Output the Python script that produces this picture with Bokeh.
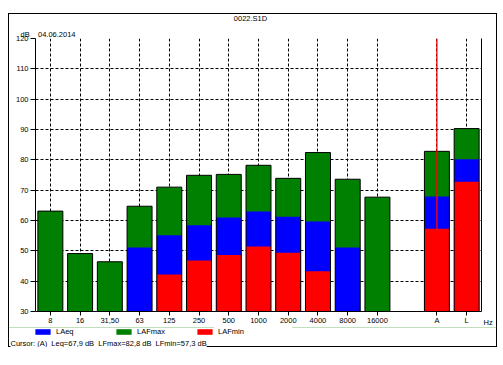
from bokeh.plotting import figure
from bokeh.layouts import column
from bokeh.models import (ColumnDataSource, FixedTicker, LinearAxis, Span, Title, Label,
                          Legend, LegendItem, Range1d)
from bokeh.embed import file_html
from bokeh.resources import INLINE

NaN = float("nan")
NB = "\u00a0"

# ---- data ----
bands = ["8", "16", "31,50", "63", "125", "250", "500", "1000", "2000", "4000",
         "8000", "16000", "A", "L"]
lafmax = [63.1, 49.1, 46.4, 64.7, 71.0, 74.9, 75.2, 78.2, 73.9, 82.4, 73.6, 67.7, 82.8, 90.3]
laeq = [NaN, NaN, NaN, 51.1, 55.1, 58.4, 61.0, 63.0, 61.2, 59.7, 51.1, NaN, 67.9, 80.2]
lafmin = [NaN, NaN, NaN, NaN, 42.2, 46.8, 48.6, 51.4, 49.4, 43.3, NaN, NaN, 57.3, 72.8]
series_cols = ["laeq", "lafmax", "lafmin"]
series_names = ["LAeq", "LAFmax", "LAFmin"]
series_colors = ["#0000ff", "#008000", "#ff0000"]
y_ticks = list(range(30, 121, 10))
title_text = "0022.S1D"
unit_text = "dB"
date_text = "04.06.2014"
x_unit_text = "Hz"
cursor_band = "A"
cursor_text = ("Cursor: (A)" + NB * 2 + "Leq=67,9 dB" + NB * 2 +
               "LFmax=82,8 dB" + NB * 2 + "LFmin=57,3 dB")

FONT = "Liberation Sans"
FS = "7.5px"
FLOOR = y_ticks[0]

# octave bands occupy slots 0..11, one empty slot, then the weighted totals
pos = [i if i < 12 else i + 1 for i in range(len(bands))]

src = ColumnDataSource(dict(x=pos, band=bands, lafmax=lafmax, laeq=laeq, lafmin=lafmin))

W_ALL = 489


def strip(height):
    f = figure(width=W_ALL, height=height, x_range=Range1d(0, 1), y_range=Range1d(0, 1),
               output_backend="svg", toolbar_location=None, title=None,
               x_axis_type=None, y_axis_type=None,
               min_border_left=0, min_border_right=0, min_border_top=0, min_border_bottom=0)
    f.outline_line_color = None
    f.background_fill_color = None
    f.border_fill_color = None
    return f


# ---- strip on top: file name ----
t = strip(12)
t.add_layout(Label(x=242, y=7.5, x_units="screen", y_units="screen", text=title_text,
                   text_align="center", text_baseline="middle", text_font=FONT,
                   text_font_size=FS, text_color="black"))

# ---- main chart ----
p = figure(width=W_ALL, height=302, x_range=Range1d(-0.5, 14.5), y_range=Range1d(FLOOR, 120),
           output_backend="svg", toolbar_location=None, title=None,
           min_border_left=27, min_border_right=16, min_border_top=13, min_border_bottom=14)
p.outline_line_color = None
p.background_fill_color = "white"
p.border_fill_color = None

xa = p.xaxis[0]
xa.ticker = FixedTicker(ticks=pos)
xa.major_label_overrides = {x: b for x, b in zip(pos, bands)}
xa.major_tick_out = 4
xa.major_tick_in = 0
xa.minor_tick_line_color = None
xa.major_label_standoff = 0
xa.major_label_text_font = FONT
xa.major_label_text_font_size = FS
xa.major_label_text_color = "black"
xa.axis_line_color = "black"

ya = p.yaxis[0]
ya.ticker = FixedTicker(ticks=y_ticks)
ya.major_tick_out = 5
ya.major_tick_in = 0
ya.minor_tick_line_color = None
ya.major_label_standoff = 2
ya.major_label_text_font = FONT
ya.major_label_text_font_size = FS
ya.major_label_text_color = "black"
ya.axis_line_color = "black"

# right edge of the plot area; its only label is the unit of the x axis,
# written two lines below the floor of the scale
ra = LinearAxis(ticker=FixedTicker(ticks=[FLOOR]), major_tick_out=0, major_tick_in=0,
                minor_tick_out=0, minor_tick_in=0, major_label_standoff=2,
                major_label_overrides={FLOOR: "\n\n" + x_unit_text},
                major_label_text_font=FONT, major_label_text_font_size=FS,
                major_label_text_color="black", axis_line_color="black")
p.add_layout(ra, "right")

for g, tk in ((p.xgrid[0], pos), (p.ygrid[0], y_ticks)):
    g.ticker = FixedTicker(ticks=tk)
    g.grid_line_color = "black"
    g.grid_line_dash = "3 2"
    g.grid_line_width = 1

# bars (overlaid, each from the floor of the scale): max, then eq, then min
W = 0.84
for col in ["lafmax", "laeq", "lafmin"]:
    color = series_colors[series_cols.index(col)]
    p.vbar(x="x", top=col, bottom=FLOOR, width=W, source=src, fill_color=color, line_color=None)
p.vbar(x="x", top="lafmax", bottom=FLOOR, width=W, source=src,
       fill_color=None, line_color="black", line_width=1)

p.add_layout(Span(location=pos[bands.index(cursor_band)], dimension="height",
                  line_color="red", line_width=1.3))

p.add_layout(Title(text=unit_text + NB * 4 + date_text, align="left", offset=-15,
                   standoff=0, text_font=FONT, text_font_size=FS,
                   text_font_style="normal", text_color="black"), "above")

# ---- strip below: legend and cursor readout ----
H_LEG = 20
q = strip(H_LEG)
items = []
for col, name, color in zip(series_cols, series_names, series_colors):
    # same bars, far outside this strip's ranges: they only lend their colours to the legend
    r = q.vbar(x="x", top=col, bottom=FLOOR, width=W, source=src,
               fill_color=color, line_color=None)
    items.append(LegendItem(label=name, renderers=[r]))

legend = Legend(items=items, orientation="horizontal", location=(25, 11),
                glyph_width=19, glyph_height=7, label_standoff=4,
                label_width=50, label_height=9, spacing=8, padding=0, margin=0,
                border_line_color=None, background_fill_alpha=0,
                label_text_font=FONT, label_text_font_size=FS, label_text_color="black")
q.add_layout(legend)

q.add_layout(Label(x=2, y=4, x_units="screen", y_units="screen", text=cursor_text,
                   text_baseline="middle", text_align="left", text_font=FONT,
                   text_font_size=FS, text_color="black",
                   background_fill_color="white"))

for f in (t, p, q):
    if "frame_align" in f.properties():
        f.frame_align = False

root = column(t, p, q, spacing=0, margin=(13, 0, 0, 8),
              styles={"box-shadow": "inset 0 0 0 1px black"})

open("out.html", "w").write(file_html(root, INLINE))
